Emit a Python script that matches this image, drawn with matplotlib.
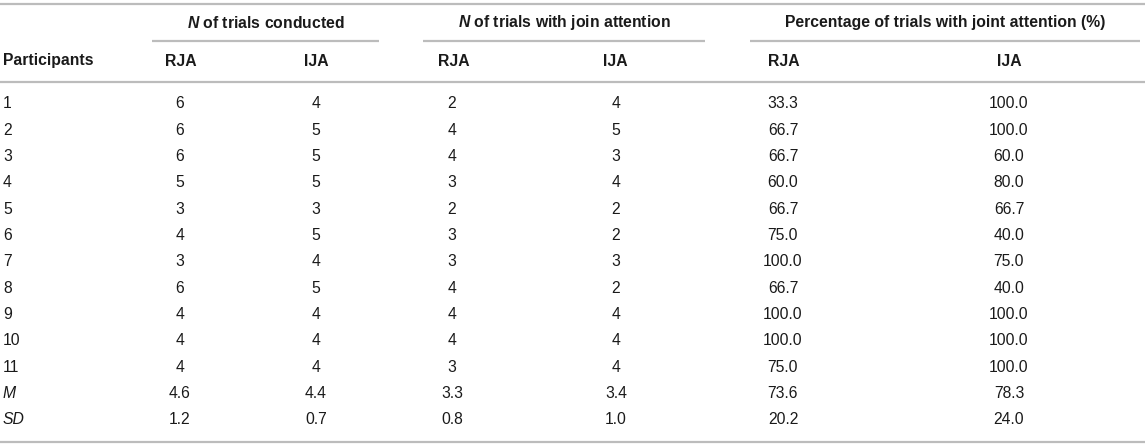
import numpy as np
import matplotlib
matplotlib.use('Agg')
import matplotlib.pyplot as plt

participants = ['1', '2', '3', '4', '5', '6', '7', '8', '9', '10', '11']
conducted_rja = [6, 6, 6, 5, 3, 4, 3, 6, 4, 4, 4]
conducted_ija = [4, 5, 5, 5, 3, 5, 4, 5, 4, 4, 4]
joint_rja = [2, 4, 4, 3, 2, 3, 3, 4, 4, 4, 3]
joint_ija = [4, 5, 3, 4, 2, 2, 3, 2, 4, 4, 4]
pct_rja = [33.3, 66.7, 66.7, 60.0, 66.7, 75.0, 100.0, 66.7, 100.0, 100.0, 75.0]
pct_ija = [100.0, 100.0, 60.0, 80.0, 66.7, 40.0, 75.0, 40.0, 100.0, 100.0, 100.0]
mean_row = ['4.6', '4.4', '3.3', '3.4', '73.6', '78.3']
sd_row = ['1.2', '0.7', '0.8', '1.0', '20.2', '24.0']

group_titles = ['$\\mathbfit{N}$ of trials conducted',
                '$\\mathbfit{N}$ of trials with join attention',
                'Percentage of trials with joint attention (%)']
sub_labels = ['RJA', 'IJA', 'RJA', 'IJA', 'RJA', 'IJA']

plt.rcParams['font.family'] = ['Liberation Sans', 'DejaVu Sans']
plt.rcParams['mathtext.fontset'] = 'custom'
plt.rcParams['mathtext.it'] = 'Liberation Sans:italic'
plt.rcParams['mathtext.rm'] = 'Liberation Sans'
plt.rcParams['mathtext.bf'] = 'Liberation Sans:bold'
plt.rcParams['mathtext.bfit'] = 'Liberation Sans:bold:italic'

fig = plt.figure(figsize=(11.45, 4.47), dpi=100)
ax = fig.add_axes([0, 0, 1, 1])
ax.set_xlim(0, 1145)
ax.set_ylim(447, 0)
ax.axis('off')

fs = 11.3
txt = '#1a1a1a'
line_col = '#bcbcbc'

col_x = [180, 316, 452, 616, 783, 1009]
head_x = [165, 304, 438, 603, 768, 997]
group_spans = [(152, 379), (423, 705), (750, 1140)]
y_head1, y_head2 = 23, 61
row_y0, row_dy = 104, 26.3

ax.hlines([4, 82, 442], 0, 1145, color=line_col, lw=1.6)
for (x0, x1), title in zip(group_spans, group_titles):
    ax.hlines(41, x0, x1, color=line_col, lw=1.6)
    ax.text((x0 + x1) / 2, y_head1, title, ha='center', va='center', fontsize=fs,
            fontweight='bold', color=txt)

ax.text(3, y_head2, 'Participants', ha='left', va='center', fontsize=fs,
        fontweight='bold', color=txt)
for lab, hx in zip(sub_labels, head_x):
    ax.text(hx, y_head2, lab, ha='left', va='center', fontsize=fs,
            fontweight='bold', color=txt)

columns = [[str(v) for v in conducted_rja], [str(v) for v in conducted_ija],
           [str(v) for v in joint_rja], [str(v) for v in joint_ija],
           ['%.1f' % v for v in pct_rja], ['%.1f' % v for v in pct_ija]]

for i, p in enumerate(participants):
    y = row_y0 + i * row_dy
    ax.text(3, y, p, ha='left', va='center', fontsize=fs, color=txt)
    for col, cx in zip(columns, col_x):
        ax.text(cx, y, col[i], ha='center', va='center', fontsize=fs, color=txt)

for k, (name, vals) in enumerate([('M', mean_row), ('SD', sd_row)]):
    y = row_y0 + (len(participants) + k) * row_dy
    ax.text(3, y, name, ha='left', va='center', fontsize=fs, style='italic', color=txt)
    for v, cx in zip(vals, col_x):
        ax.text(cx, y, v, ha='center', va='center', fontsize=fs, color=txt)

fig.savefig('out.png', dpi=100)
